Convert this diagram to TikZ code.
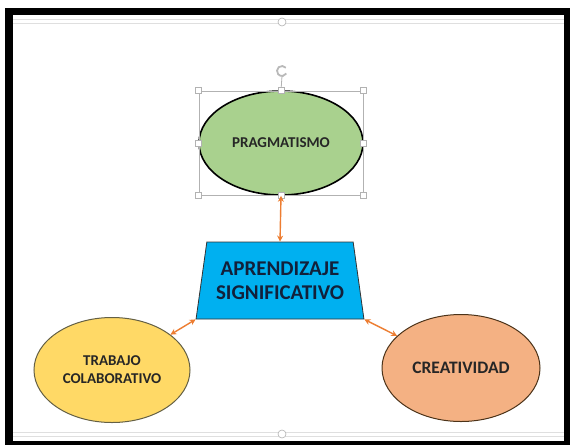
\documentclass[tikz,border=0pt]{standalone}
\usepackage{fontspec}
\setmainfont{Carlito}
\usetikzlibrary{shapes.geometric,arrows.meta}

\definecolor{pragGreen}{RGB}{169,209,142}
\definecolor{aprBlue}{RGB}{0,176,240}
\definecolor{trabYellow}{RGB}{255,217,102}
\definecolor{creaOrange}{RGB}{244,177,131}
\definecolor{linkOrange}{RGB}{237,125,49}
\definecolor{textNavy}{RGB}{18,32,58}

\tikzset{
  idea/.style={ellipse, draw=#1, line width=1pt, font=\bfseries, align=center,
    inner sep=0pt, text=black!85},
  link/.style={draw=linkOrange, line width=1.4pt,
    {Stealth[length=6pt,width=6pt]}-{Stealth[length=6pt,width=6pt]}},
  handle/.style={draw=gray!60, fill=white, line width=0.6pt, minimum size=6pt, inner sep=0pt},
  slideline/.style={draw=gray!25, line width=1pt}
}

\begin{document}
\begin{tikzpicture}[x=1pt, y=-1pt]

    \newcommand*{\xMin}{0}%
    \newcommand*{\xMax}{570}%
    \newcommand*{\yMin}{0}%
    \newcommand*{\yMax}{445}%
    \useasboundingbox (\xMin,\yMin) rectangle (\xMax,\yMax);

    % screen frame
    \fill[black] (5,8) rectangle (\xMax,\yMax);
    \fill[white] (13,15) rectangle (564,441);
    \draw[slideline] (13,19.5) -- (564,19.5);
    \draw[slideline] (13,23.5) -- (564,23.5);
    \draw[slideline] (13,432.5) -- (564,432.5);
    \draw[slideline] (13,436.5) -- (564,436.5);
    \node[circle, handle, minimum size=8pt] (topgrip) at (282,22) {};
    \node[circle, handle, minimum size=8pt] (botgrip) at (282,434) {};

    % ideas
    \node[idea=black, fill=pragGreen, line width=1.6pt, minimum width=164, minimum height=104,
      font=\bfseries\fontsize{15}{17}\selectfont] (prag) at (281,143) {PRAGMATISMO};
    \node[trapezium, draw=black!80, fill=aprBlue, line width=0.8pt,
      trapezium left angle=76, trapezium right angle=76, trapezium stretches=true,
      minimum width=168, minimum height=77, inner sep=0pt, align=center, text=textNavy,
      font=\bfseries\fontsize{21}{24}\selectfont] (apr) at (280,280.5) {APRENDIZAJE\\SIGNIFICATIVO};
    \node[idea=black!70!yellow, fill=trabYellow, minimum width=156, minimum height=105,
      font=\bfseries\fontsize{15}{18}\selectfont] (trab) at (112,370) {TRABAJO\\COLABORATIVO};
    \node[idea=black!60!brown, fill=creaOrange, minimum width=158, minimum height=107,
      font=\bfseries\fontsize{17.5}{20}\selectfont] (crea) at (461,368) {CREATIVIDAD};

    % selection frame round the first idea
    \node[draw=gray!60, line width=0.6pt, minimum width=164, minimum height=104,
      inner sep=0pt] (sel) at (prag) {};
    \coordinate (rot) at (282,71);
    \draw[gray!60, line width=0.8pt] (sel.north) -- (282,76);
    \draw[gray!55, line width=1.8pt] ([shift={(40:5pt)}]rot) arc[start angle=40, end angle=330, radius=5pt];
    \foreach \a in {north west, north, north east, east, south east, south, south west, west} {
      \node[handle] at (sel.\a) {};
    }

    % links
    \draw[link] (prag.south) -- (apr.north);
    \draw[link] (trab) -- (apr.bottom left corner);
    \draw[link] (crea) -- (apr.bottom right corner);

\end{tikzpicture}
\end{document}
